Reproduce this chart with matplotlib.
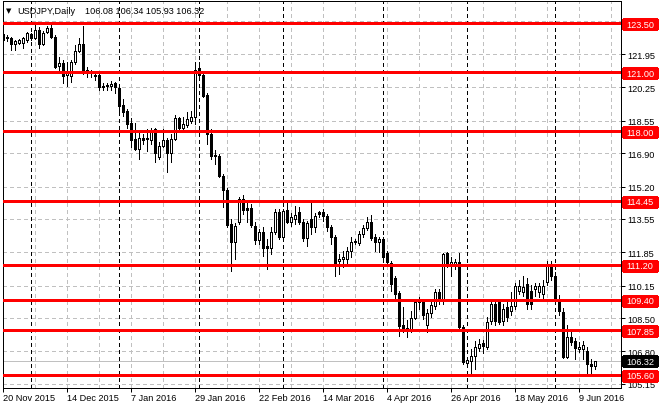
import matplotlib
matplotlib.use('Agg')
import matplotlib.pyplot as plt
from matplotlib.patches import Rectangle
import numpy as np

# daily OHLC bars (20 Nov 2015 .. 15 Jun 2016)
opens = [122.99, 122.82, 122.79, 122.48, 122.53, 122.53, 122.69, 122.99, 122.79, 123.19,
         122.48, 123.09, 123.30, 122.84, 121.36, 121.52, 120.90, 120.81, 121.57, 122.13,
         122.48, 121.16, 121.06, 120.91, 120.86, 120.25, 120.40, 120.30, 120.50, 120.20,
         119.38, 119.03, 118.42, 117.60, 117.14, 117.70, 117.60, 117.55, 118.11, 116.69,
         117.25, 117.55, 116.89, 117.60, 118.67, 118.21, 118.32, 118.52, 118.77, 121.26,
         120.91, 119.89, 117.86, 116.79, 116.74, 115.72, 115.01, 113.28, 112.37, 113.38,
         114.55, 114.09, 114.09, 113.18, 112.47, 112.87, 112.16, 112.06, 112.87, 113.89,
         112.62, 113.99, 113.38, 113.54, 113.89, 113.38, 112.57, 113.54, 113.13, 113.89,
         113.89, 113.69, 113.13, 112.62, 111.40, 111.50, 111.50, 111.91, 112.37, 112.32,
         112.77, 113.08, 113.38, 112.62, 112.37, 112.52, 111.81, 111.30, 110.53, 109.77,
         108.14, 108.00, 107.89, 108.50, 109.32, 109.32, 108.14, 108.76, 109.11, 109.82,
         109.37, 111.81, 111.20, 111.20, 111.35, 108.04, 106.21, 106.32, 106.57, 106.98,
         107.23, 107.03, 108.35, 109.21, 109.32, 108.35, 109.06, 108.86, 109.11, 109.87,
         109.82, 110.23, 109.87, 109.97, 109.82, 109.72, 110.33, 111.15, 110.64, 109.47,
         108.81, 106.52, 107.53, 107.33, 106.92, 106.92, 106.82, 106.16, 106.08]
highs = [123.04, 122.94, 122.84, 122.69, 122.74, 122.84, 123.09, 123.04, 123.45, 123.35,
         123.14, 123.40, 123.45, 122.94, 121.82, 121.67, 121.57, 121.67, 122.43, 122.79,
         123.40, 121.31, 121.16, 121.06, 121.01, 120.50, 120.50, 120.60, 120.55, 120.25,
         119.64, 119.13, 118.72, 118.42, 117.96, 117.86, 118.11, 118.21, 118.21, 117.45,
         118.11, 117.70, 117.86, 118.87, 118.77, 118.77, 118.98, 119.03, 121.57, 121.57,
         120.96, 119.99, 118.11, 117.09, 116.84, 115.82, 115.11, 113.54, 113.33, 114.65,
         114.75, 114.40, 114.30, 113.38, 113.03, 113.13, 112.52, 113.13, 114.04, 114.04,
         114.04, 114.40, 113.84, 114.20, 114.15, 113.54, 113.43, 114.40, 113.84, 113.94,
         114.04, 113.79, 113.23, 112.72, 111.76, 111.91, 112.11, 112.62, 112.52, 112.93,
         113.23, 113.64, 113.74, 112.77, 112.62, 112.62, 111.91, 111.40, 110.64, 109.87,
         109.06, 108.40, 108.86, 109.47, 109.57, 109.47, 108.96, 109.47, 109.97, 109.97,
         111.81, 111.86, 111.60, 111.50, 111.81, 108.14, 106.52, 106.92, 107.33, 107.43,
         107.38, 108.55, 109.42, 109.47, 109.47, 109.21, 109.32, 109.82, 110.28, 110.43,
         110.64, 110.53, 110.18, 110.28, 110.28, 110.43, 111.40, 111.40, 110.84, 109.67,
         109.01, 108.14, 107.89, 107.48, 107.28, 107.33, 107.03, 106.42, 106.34]
lows = [122.64, 122.64, 122.18, 122.18, 122.45, 122.28, 122.58, 122.69, 122.74, 122.28,
        122.43, 123.04, 122.79, 121.26, 121.16, 120.50, 120.35, 120.55, 121.47, 122.08,
        120.96, 120.76, 120.76, 120.65, 120.14, 120.14, 120.14, 120.14, 119.99, 118.90,
        118.82, 118.21, 117.20, 117.09, 116.59, 117.35, 116.99, 117.35, 116.43, 116.59,
        117.20, 115.93, 116.43, 117.55, 118.11, 118.06, 118.26, 118.42, 118.37, 120.81,
        119.79, 117.35, 116.59, 116.33, 115.67, 114.15, 113.13, 110.89, 111.50, 113.28,
        113.79, 113.38, 113.13, 112.27, 112.27, 111.65, 110.99, 111.76, 112.77, 112.52,
        112.52, 113.33, 113.18, 113.28, 113.28, 112.42, 112.16, 112.77, 112.87, 113.64,
        113.43, 112.93, 112.27, 110.64, 110.74, 111.09, 111.25, 111.60, 112.27, 112.21,
        112.62, 112.98, 112.47, 111.91, 111.85, 111.35, 111.25, 109.87, 109.37, 107.58,
        107.79, 107.53, 107.79, 108.45, 108.96, 108.45, 107.79, 108.55, 108.96, 109.21,
        109.21, 111.09, 110.64, 110.99, 107.94, 106.16, 106.01, 105.55, 105.91, 106.82,
        106.72, 106.92, 108.20, 108.14, 108.20, 108.14, 108.35, 108.66, 108.96, 109.72,
        109.62, 108.96, 108.96, 109.62, 109.57, 109.47, 110.18, 110.43, 109.21, 108.66,
        106.47, 106.47, 107.13, 106.42, 106.77, 106.42, 105.65, 105.65, 105.93]
closes = [122.69, 122.76, 122.48, 122.64, 122.69, 122.79, 123.04, 122.79, 123.19, 122.48,
          123.04, 123.30, 122.84, 121.31, 121.52, 120.81, 120.98, 121.57, 122.13, 122.48,
          121.06, 121.06, 121.01, 120.81, 120.25, 120.35, 120.30, 120.45, 120.25, 119.33,
          118.98, 118.37, 117.55, 117.14, 117.70, 117.55, 117.70, 117.96, 116.89, 117.25,
          117.55, 116.89, 117.65, 118.72, 118.21, 118.37, 118.62, 118.77, 121.16, 120.91,
          119.84, 117.86, 116.74, 116.74, 115.72, 115.01, 113.23, 112.37, 113.18, 114.55,
          113.99, 113.99, 113.23, 112.47, 112.87, 112.06, 112.06, 112.87, 113.89, 112.62,
          113.94, 113.38, 113.64, 113.74, 113.38, 112.57, 113.33, 113.13, 113.69, 113.79,
          113.69, 113.13, 112.62, 111.30, 111.50, 111.60, 111.91, 112.37, 112.42, 112.77,
          113.08, 113.38, 112.57, 112.37, 112.52, 111.60, 111.35, 110.23, 109.72, 108.09,
          107.94, 107.94, 108.50, 109.32, 109.42, 108.66, 108.76, 109.16, 109.82, 109.37,
          111.76, 111.25, 111.35, 111.35, 108.04, 106.27, 106.37, 106.57, 107.03, 107.18,
          107.08, 108.30, 109.21, 108.35, 108.30, 108.96, 108.55, 109.11, 110.13, 110.13,
          110.08, 109.21, 109.21, 110.13, 110.13, 110.13, 111.15, 110.64, 109.37, 108.86,
          106.52, 107.53, 107.28, 106.98, 107.03, 107.13, 106.16, 106.06, 106.32]

date_labels = ['20 Nov 2015', '14 Dec 2015', '7 Jan 2016', '29 Jan 2016', '22 Feb 2016',
               '14 Mar 2016', '4 Apr 2016', '26 Apr 2016', '18 May 2016', '9 Jun 2016']
label_step = 16
month_starts = [7, 29, 49, 70, 95, 116, 138]
levels = [123.50, 121.00, 118.00, 114.45, 111.20, 109.40, 107.85, 105.60]
price_ticks = [121.95, 120.25, 118.55, 116.90, 115.20, 113.55, 111.85, 110.15, 108.50, 106.80, 105.15]
top_grid = 123.65
symbol = 'USDJPY,Daily'

plt.rcParams['font.family'] = ['Liberation Sans', 'DejaVu Sans']
plt.rcParams['lines.scale_dashes'] = False
# crisp, terminal-like pixels
plt.rcParams['lines.antialiased'] = False
plt.rcParams['patch.antialiased'] = False

W, H = 660, 410
PX = 72 / 100  # one pixel in points
FS = 6.6
PPU = 19.63    # pixels per price unit

fig = plt.figure(figsize=(W / 100, H / 100), dpi=100)
ax = fig.add_axes([2.5 / W, 1 - 389 / H, 618.5 / W, 386.7 / H])
ax.set_xlim(-0.125, 154.5)
ax.set_ylim(104.94, 124.64)

o = np.array(opens); h = np.array(highs); l = np.array(lows); c = np.array(closes)
xs = np.arange(len(o))

# grid
for v in range(0, 155, 8):
    ax.axvline(v, color='#c0c0c0', lw=PX, ls=(0, (4 * PX, 3 * PX)), zorder=0)
for p in price_ticks + [top_grid]:
    ax.axhline(p, color='#c0c0c0', lw=PX, ls=(0, (4 * PX, 3 * PX)), zorder=0)

# period separators
for m in month_starts:
    ax.axvline(m, color='black', lw=PX, ls=(0, (3 * PX, 3 * PX)), zorder=1)

# last price line
ax.axhline(c[-1], color='#c0c0c0', lw=PX, zorder=1)

# candles
up = c >= o
ax.vlines(xs, l, h, color='black', lw=PX, zorder=3, antialiased=False)
ax.bar(xs, np.maximum(np.abs(c - o), 0.04), bottom=np.minimum(o, c), width=0.58,
       color=np.where(up, 'white', 'black'), edgecolor='black', linewidth=PX, zorder=4)

# horizontal levels with price boxes
trans = ax.get_yaxis_transform()
bx0 = (622.5 - 2.5) / 618.5
bw = 34.5 / 618.5
bh = 10 / PPU
off = 0.5 / PPU
tx = (626 - 2.5) / 618.5
for p in levels:
    ax.axhline(p, color='red', lw=2 * PX, zorder=5, snap=False)
    ax.add_patch(Rectangle((bx0, p - bh / 2 - off), bw, bh, transform=trans, color='red',
                           clip_on=False, zorder=10))
    ax.text(tx, p - off, f'{p:.2f}', transform=trans, color='white', fontsize=FS,
            va='center', ha='left', clip_on=False, zorder=11)

ax.add_patch(Rectangle((bx0, c[-1] - bh / 2 - off), bw, bh, transform=trans, color='black',
                       clip_on=False, zorder=10))
ax.text(tx, c[-1] - off, f'{c[-1]:.2f}', transform=trans, color='white', fontsize=FS,
        va='center', ha='left', clip_on=False, zorder=11)

# axes
ax.yaxis.tick_right()
ax.set_yticks(price_ticks)
ax.set_yticklabels([f'{p:.2f}' for p in price_ticks])
ax.set_xticks(xs[::label_step])
ax.set_xticklabels(date_labels)
for lab in ax.get_xticklabels():
    lab.set_ha('left')
ax.tick_params(axis='both', length=4 * PX, width=PX, labelsize=FS, color='black')
ax.tick_params(axis='y', pad=2 * PX)
ax.tick_params(axis='x', pad=1.5 * PX)
for s in ax.spines.values():
    s.set_linewidth(PX)
    s.set_color('black')
    s.set_antialiased(False)

# header
fig.text(6 / W, 1 - 11 / H, '\u25bc', family='DejaVu Sans', fontsize=5, va='center')
fig.text(17 / W, 1 - 11 / H, symbol, fontsize=FS, va='center')
fig.text(85 / W, 1 - 11 / H, ' '.join(f'{v:.2f}' for v in (o[-1], h[-1], l[-1], c[-1])),
         fontsize=FS, va='center')

fig.savefig('out.png', dpi=100)
